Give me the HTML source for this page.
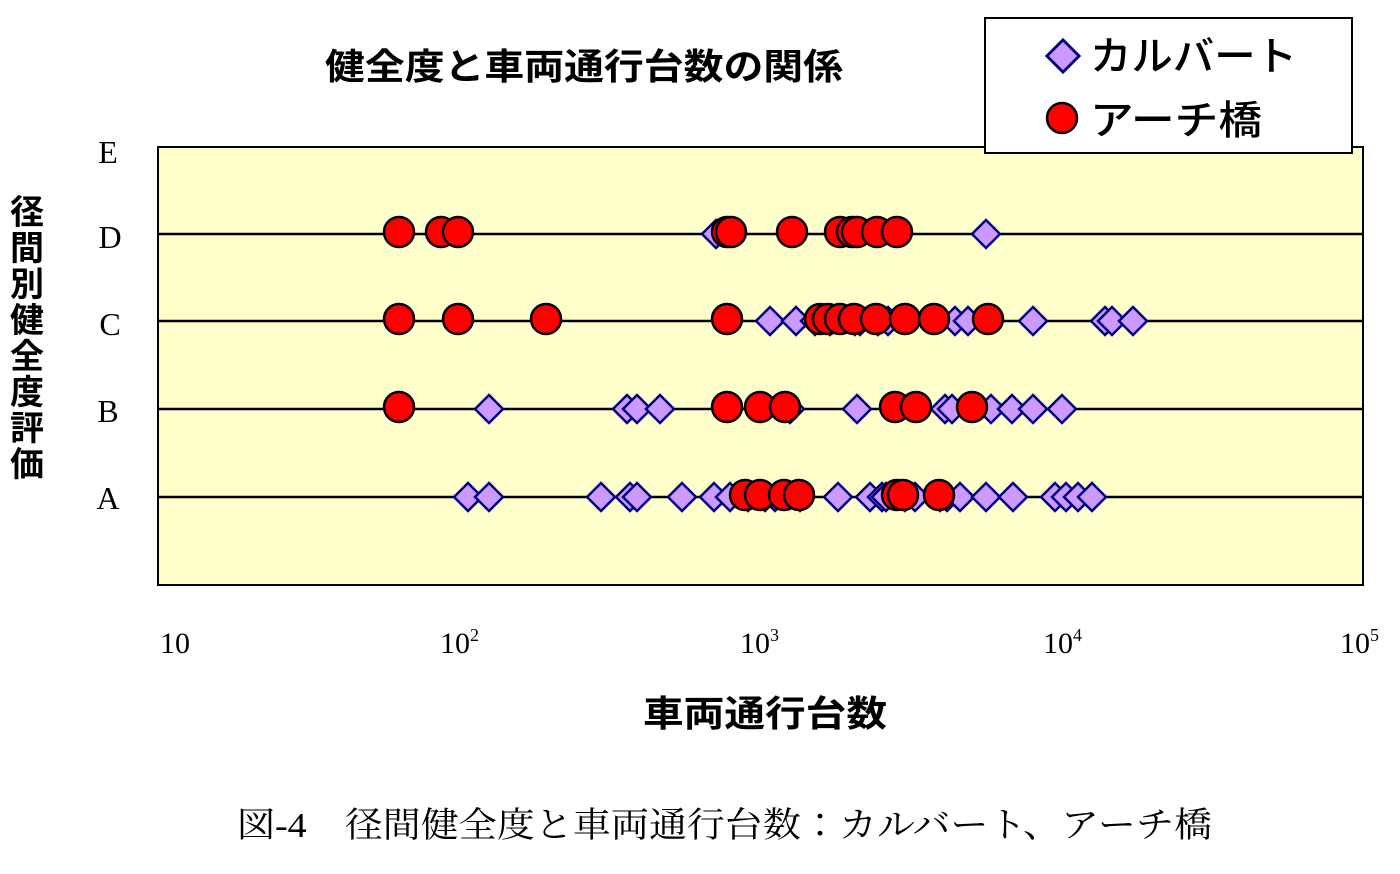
<!DOCTYPE html><html><head><meta charset="utf-8"><style>body{margin:0;background:#fff}svg text{font-family:"Liberation Serif","Noto Serif CJK JP",serif}svg text.s{font-family:"Noto Sans CJK JP",sans-serif;font-weight:bold}</style></head><body>
<svg width="1400" height="869" xmlns="http://www.w3.org/2000/svg">
<defs>
<g id="d"><path d="M0,-14L14,0L0,14L-14,0Z" fill="#cc99ff" stroke="#000080" stroke-width="2.5"/></g>
<g id="c"><circle r="15" fill="#ff0000" stroke="#000" stroke-width="2.5"/></g>
</defs>
<text class="s" x="325" y="79" font-size="36" textLength="518" lengthAdjust="spacingAndGlyphs">健全度と車両通行台数の関係</text>
<rect x="158" y="147" width="1205" height="438" fill="#ffffcc" stroke="#000" stroke-width="2"/>
<g stroke="#000" stroke-width="2.5"><line x1="158" y1="234" x2="1363" y2="234"/><line x1="158" y1="321" x2="1363" y2="321"/><line x1="158" y1="409" x2="1363" y2="409"/><line x1="158" y1="497" x2="1363" y2="497"/></g>
<g font-size="32" text-anchor="middle"><text x="108" y="163">E</text><text x="110" y="248">D</text><text x="110" y="335">C</text><text x="108" y="422">B</text><text x="108" y="509">A</text></g>
<g font-size="30"><text x="160" y="653">10</text><text x="440" y="653">10<tspan font-size="18" dy="-12">2</tspan></text><text x="740" y="653">10<tspan font-size="18" dy="-12">3</tspan></text><text x="1043" y="653">10<tspan font-size="18" dy="-12">4</tspan></text><text x="1340" y="653">10<tspan font-size="18" dy="-12">5</tspan></text></g>
<text class="s" x="643" y="726" font-size="36" textLength="244" lengthAdjust="spacingAndGlyphs">車両通行台数</text>
<g font-size="34" text-anchor="middle">
<text class="s" x="27" y="224">径</text><text class="s" x="27" y="260">間</text><text class="s" x="27" y="296">別</text><text class="s" x="27" y="332">健</text><text class="s" x="27" y="368">全</text><text class="s" x="27" y="404">度</text><text class="s" x="27" y="440">評</text><text class="s" x="27" y="476">価</text></g>
<text x="237" y="837" font-size="35" textLength="975" lengthAdjust="spacingAndGlyphs">図‐4　径間健全度と車両通行台数：カルバート、アーチ橋</text>
<rect x="985" y="18" width="367" height="135" fill="#fff" stroke="#000" stroke-width="2"/>
<g transform="translate(1063,56) scale(1.15)"><use href="#d"/></g><use href="#c" x="1062" y="118"/>
<text class="s" x="1090" y="70" font-size="40" textLength="207" lengthAdjust="spacingAndGlyphs" style="font-weight:500">カルバート</text>
<text class="s" x="1090" y="134" font-size="40" textLength="172" lengthAdjust="spacingAndGlyphs" style="font-weight:500">アーチ橋</text>
<g id="pts"></g>
</svg>
<script>
var rows={234:{d:[716,986],c:[399,441,458,727,731,792,840,852,857,877,897]},
321:{d:[770,796,815,830,855,860,878,888,955,968,1033,1105,1112,1133],c:[399,458,546,727,820,828,840,854,876,905,934,988]},
409:{d:[489,627,637,660,790,857,945,952,991,1012,1033,1062],c:[399,727,760,785,895,916,972]},
497:{d:[468,489,601,630,637,682,714,730,748,765,775,800,838,870,882,886,905,915,940,947,960,986,1013,1055,1066,1078,1092],c:[745,760,784,799,897,903,939]}};
var g=document.getElementById('pts'),s='';
for(var y in rows){rows[y].d.forEach(function(x){s+='<use href="#d" x="'+x+'" y="'+y+'"/>'});}
for(var y in rows){rows[y].c.forEach(function(x){s+='<use href="#c" x="'+x+'" y="'+(y-2)+'"/>'});}
g.innerHTML=s;
</script>
</body></html>
